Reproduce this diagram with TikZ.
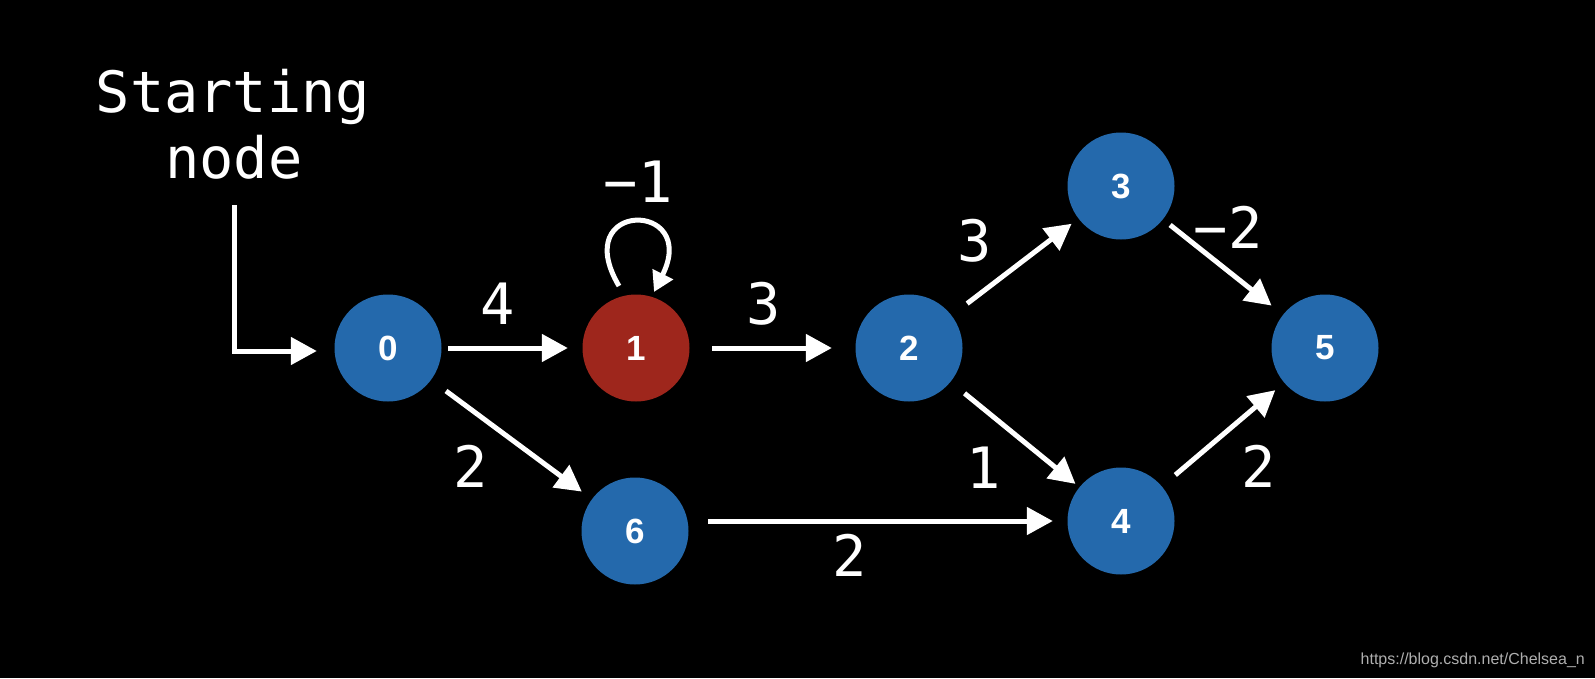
\documentclass[tikz,border=0pt]{standalone}
\usepackage{fontspec}
\newfontfamily\labfont{DejaVu Sans Mono}
\newfontfamily\numfont{Liberation Sans}
\usetikzlibrary{arrows.meta}
\definecolor{nblue}{RGB}{36,105,172}
\definecolor{nred}{RGB}{158,38,28}
\definecolor{wmgray}{RGB}{175,175,175}
\tikzset{
  vtx/.style={circle, fill=nblue, minimum size=107pt, inner sep=0pt, text=white,
    font=\numfont\bfseries\fontsize{35}{35}\selectfont},
  hot/.style={vtx, fill=nred},
  arr/.style={draw=white, line width=5pt, -{Triangle[length=26pt,width=27pt]}},
  looparr/.style={draw=white, line width=5pt, -{Triangle[length=20pt,width=22pt]}},
  wlabel/.style={text=white, inner sep=0pt, font=\labfont\fontsize{57}{57}\selectfont},
}
\begin{document}
\begin{tikzpicture}[x=1pt,y=-1pt]
\fill[black] (0,0) rectangle (1595,678);
\useasboundingbox (0,0) rectangle (1595,678);

% vertices
\node[vtx] (n0) at (388,348) {0};
\node[hot] (n1) at (636,348) {1};
\node[vtx] (n2) at (909,348) {2};
\node[vtx] (n3) at (1121,186) {3};
\node[vtx] (n5) at (1325,348) {5};
\node[vtx] (n4) at (1121,521) {4};
\node[vtx] (n6) at (635,531) {6};

% starting node text and arrow
\node[wlabel, anchor=base] (st1) at (233,112) {Starting};
\node[wlabel, anchor=base] (st2) at (234,178) {node};
\coordinate (startpt) at (234,205);
\draw[arr, shorten >=17.5pt] (startpt) |- ([yshift=-3pt]n0.west);

% edges
\draw[arr, shorten <=6.5pt, shorten >=14.5pt] (n0) -- (n1);
\draw[arr, shorten <=22.5pt, shorten >=23.5pt] (n1) -- (n2);
\draw[arr, shorten <=18.5pt, shorten >=12.5pt] (n0) -- (n6);
\draw[arr, shorten <=19.5pt, shorten >=8.5pt] (n2) -- (n3);
\draw[arr, shorten <=18pt, shorten >=5pt] (n2) -- (n4);
\draw[arr, shorten <=9pt, shorten >=14.5pt] (n3) -- (n5);
\draw[arr, shorten <=17.5pt, shorten >=11.5pt] (n4) -- (n5);
\draw[arr, shorten <=19.5pt, shorten >=14.5pt] (n6.east |- n4.west) -- (n4.west);

% self loop on 1
\draw[looparr] ([shift={(-17,-62)}]n1.center) .. controls +(-51,-86) and +(46,-92) .. ([shift={(18,-56)}]n1.center);

% edge labels
\node[wlabel] (w01) at (498,304) {4};
\node[wlabel] (w11) at (638,182) {−1};
\node[wlabel] (w12) at (764,304) {3};
\node[wlabel] (w23) at (975,241) {3};
\node[wlabel] (w35) at (1228,227) {−2};
\node[wlabel] (w06) at (471,466) {2};
\node[wlabel] (w24) at (984,468) {1};
\node[wlabel] (w45) at (1259,466) {2};
\node[wlabel] (w64) at (850,555) {2};

% watermark
\node[anchor=base east, inner sep=0pt, text=wmgray, font=\numfont\fontsize{16}{16}\selectfont] (wm) at (1585,664) {https://blog.csdn.net/Chelsea\_n};
\end{tikzpicture}
\end{document}
